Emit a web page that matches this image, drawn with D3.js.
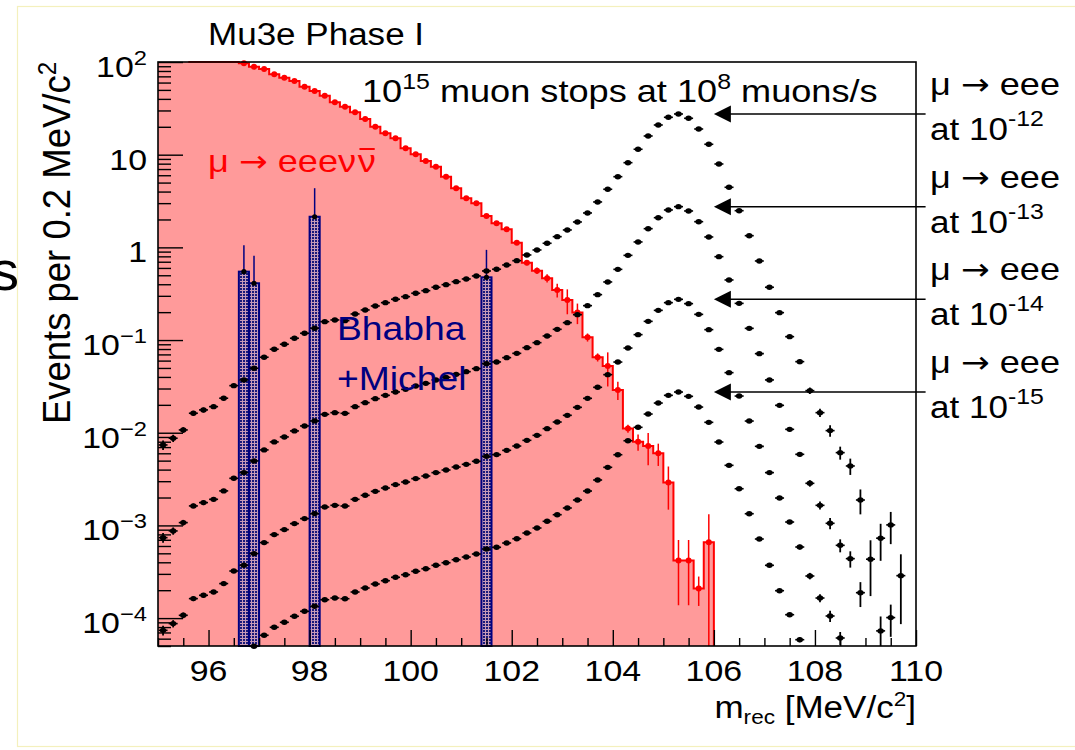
<!DOCTYPE html>
<html>
<head>
<meta charset="utf-8">
<script src="https://cdn.jsdelivr.net/npm/d3@7"></script>
<style>
  body { margin: 0; background: #fff; }
  svg { display: block; }
  text { font-family: "Liberation Sans", Arial, Helvetica, sans-serif; }
  .arr { font-family: "DejaVu Sans", sans-serif; }
</style>
</head>
<body>
<svg width="1075" height="750"></svg>
<script>
// ---- data, 0.2 MeV bins from 95 to 110 ----
var binLow = 95, binWidth = 0.2;
var binCentres = d3.range(75).map(i => binLow + binWidth * (i + 0.5));

// mu -> eeevv background (values above 100 are off the top of the frame)
var redVals = [310, 270, 235, 205, 180, 155, 132, 112,
  96.8, 89.0, 84.0, 73.7, 67.7, 62.4, 54.2, 48.7, 43.3, 36.7, 32.9, 28.7, 24.3, 20.0, 17.0, 15.0, 11.7,
  10.1, 8.55, 7.42, 5.79, 4.34, 3.39, 2.99, 2.18, 1.82, 1.57, 1.12, 0.684, 0.561, 0.465, 0.347, 0.271,
  0.198, 0.107, 0.0652, 0.0526, 0.029, 0.0111, 0.0080, 0.0072, 0.0060, 0.0029, 0.000417, 0.000417,
  0.000208, 0.00066,
  0, 0, 0, 0, 0, 0, 0, 0, 0, 0, 0, 0, 0, 0, 0, 0, 0, 0, 0, 0];
var redRelErr = [0.01, 0.01, 0.01, 0.01, 0.01, 0.01, 0.01, 0.01,
  0.015, 0.015, 0.015, 0.015, 0.015, 0.015, 0.015, 0.015, 0.015, 0.015, 0.015, 0.015, 0.015, 0.015, 0.015, 0.015, 0.015,
  0.03, 0.03, 0.03, 0.03, 0.03, 0.03, 0.03, 0.03, 0.03, 0.03, 0.04, 0.06, 0.08, 0.10, 0.17, 0.30,
  0.25, 0.10, 0.10, 0.40, 0.22, 0.10, 0.20, 0.38, 0.27, 0.49, 0.67, 0.67, 0.35, 1.0,
  0, 0, 0, 0, 0, 0, 0, 0, 0, 0, 0, 0, 0, 0, 0, 0, 0, 0, 0, 0];

// Bhabha + Michel
var bhabhaX = [96.7, 96.9, 98.1, 101.5];
var bhabhaVals = [0.547, 0.41, 2.14, 0.475];
var bhabhaErr = [0.51, 0.40, 2.21, 0.465];

// mu -> eee signal at branching ratio 1e-12 ... 1e-15
var sig12 = [0.00738, 0.00872, 0.01072, 0.01623, 0.01762, 0.01912, 0.02357, 0.03222, 0.03712, 0.04963,
  0.06525, 0.0796, 0.0901, 0.1046, 0.1184, 0.1341, 0.1579, 0.1647, 0.1619, 0.1912, 0.2112, 0.2332,
  0.2532, 0.2755, 0.2939, 0.3198, 0.3411, 0.3712, 0.396, 0.4266, 0.4561, 0.4915, 0.5564, 0.5805,
  0.6458, 0.7186, 0.8279, 0.9375, 1.107, 1.305, 1.541, 1.879, 2.35, 3.09, 4.234, 5.79, 8.199, 11.44,
  15.91, 20.91, 25.32, 27.49, 24.7, 18.93, 12.95, 7.937, 4.449, 2.488, 1.337, 0.7133, 0.3712, 0.1975,
  0.1088, 0.05848, 0.02846, 0.01647, 0.01054, 0.0061, 0.00438, 0.00188, 0.000432, 0.000728, 0.001013,
  0.000287, 0];
var sig13 = [7.38e-4, 8.72e-4, 1.072e-3, 1.623e-3, 1.762e-3, 1.912e-3, 2.357e-3, 3.222e-3, 3.712e-3, 4.963e-3,
  6.525e-3, 7.96e-3, 9.01e-3, 1.046e-2, 1.184e-2, 1.341e-2, 1.579e-2, 1.647e-2, 1.619e-2, 1.912e-2, 2.112e-2, 2.332e-2,
  2.532e-2, 2.755e-2, 2.939e-2, 3.198e-2, 3.411e-2, 3.712e-2, 3.96e-2, 4.266e-2, 4.561e-2, 4.915e-2, 5.564e-2, 5.805e-2,
  6.458e-2, 7.186e-2, 8.279e-2, 9.375e-2, 0.1107, 0.1305, 0.1541, 0.1879, 0.235, 0.309, 0.4234, 0.579, 0.8199, 1.144,
  1.591, 2.091, 2.532, 2.749, 2.47, 1.893, 1.295, 0.7937, 0.4449, 0.2488, 0.1337, 7.133e-2, 3.712e-2, 1.975e-2,
  1.088e-2, 5.848e-3, 2.846e-3, 1.647e-3, 1.054e-3, 6.1e-4, 4.38e-4, 1.88e-4, 4.32e-5, 7.28e-5, 1.013e-4,
  2.87e-5, 0];
var sig14 = [7.38e-5, 8.72e-5, 1.072e-4, 1.623e-4, 1.762e-4, 1.912e-4, 2.357e-4, 3.222e-4, 3.712e-4, 4.963e-4,
  6.525e-4, 7.96e-4, 9.01e-4, 1.046e-3, 1.184e-3, 1.341e-3, 1.579e-3, 1.647e-3, 1.619e-3, 1.912e-3, 2.112e-3, 2.332e-3,
  2.532e-3, 2.755e-3, 2.939e-3, 3.198e-3, 3.411e-3, 3.712e-3, 3.96e-3, 4.266e-3, 4.561e-3, 4.915e-3, 5.564e-3, 5.805e-3,
  6.458e-3, 7.186e-3, 8.279e-3, 9.375e-3, 1.107e-2, 1.305e-2, 1.541e-2, 1.879e-2, 2.35e-2, 3.09e-2, 4.234e-2, 5.79e-2, 8.199e-2, 0.1144,
  0.1591, 0.2091, 0.2532, 0.2749, 0.247, 0.1893, 0.1295, 7.937e-2, 4.449e-2, 2.488e-2, 1.337e-2, 7.133e-3, 3.712e-3, 1.975e-3,
  1.088e-3, 5.848e-4, 2.846e-4, 1.647e-4, 1.054e-4, 6.1e-5, 4.38e-5, 1.88e-5, 4.32e-6, 7.28e-6, 1.013e-5,
  2.87e-6, 0];
var sig15 = [7.38e-6, 8.72e-6, 1.072e-5, 1.623e-5, 1.762e-5, 1.912e-5, 2.357e-5, 3.222e-5, 3.712e-5, 4.963e-5,
  6.525e-5, 7.96e-5, 9.01e-5, 1.046e-4, 1.184e-4, 1.341e-4, 1.579e-4, 1.647e-4, 1.619e-4, 1.912e-4, 2.112e-4, 2.332e-4,
  2.532e-4, 2.755e-4, 2.939e-4, 3.198e-4, 3.411e-4, 3.712e-4, 3.96e-4, 4.266e-4, 4.561e-4, 4.915e-4, 5.564e-4, 5.805e-4,
  6.458e-4, 7.186e-4, 8.279e-4, 9.375e-4, 1.107e-3, 1.305e-3, 1.541e-3, 1.879e-3, 2.35e-3, 3.09e-3, 4.234e-3, 5.79e-3, 8.199e-3, 1.144e-2,
  1.591e-2, 2.091e-2, 2.532e-2, 2.749e-2, 2.47e-2, 1.893e-2, 1.295e-2, 7.937e-3, 4.449e-3, 2.488e-3, 1.337e-3, 7.133e-4, 3.712e-4, 1.975e-4,
  1.088e-4, 5.848e-5, 2.846e-5, 1.647e-5, 1.054e-5, 6.1e-6, 4.38e-6, 1.88e-6, 4.32e-7, 7.28e-7, 1.013e-6,
  2.87e-7, 0];
// relative MC error, same sample scaled for every branching ratio
var sigRelErr = [0.12, 0.09, 0.07, 0.06, 0.06, 0.05, 0.05, 0.045, 0.04, 0.04,
  0.035, 0.035, 0.035, 0.035, 0.035, 0.03, 0.03, 0.03, 0.03, 0.03, 0.03, 0.03, 0.03, 0.03, 0.03,
  0.025, 0.025, 0.025, 0.025, 0.025, 0.025, 0.025, 0.025, 0.025, 0.025, 0.02, 0.02, 0.02, 0.02, 0.02,
  0.02, 0.02, 0.02, 0.02, 0.02, 0.015, 0.015, 0.015, 0.015, 0.015, 0.015, 0.015, 0.015, 0.015, 0.015,
  0.015, 0.015, 0.015, 0.02, 0.025, 0.03, 0.04, 0.05, 0.06, 0.08, 0.10, 0.14, 0.16, 0.20, 0.30,
  0.60, 0.43, 0.38, 0.70, 0];
var sigSeries = [sig12, sig13, sig14, sig15];
var sigExponents = ['-12', '-13', '-14', '-15'];

var xTicks = [96, 98, 100, 102, 104, 106, 108, 110];
var yDecades = [1e2, 1e1, 1, 1e-1, 1e-2, 1e-3, 1e-4];
var yTickExp = ['2', '', '', '\u22121', '\u22122', '\u22123', '\u22124'];

// ---- layout ----
var frameL = 158, frameR = 916, frameT = 62, frameB = 646;
var SX = 1.13; // lettering in the picture is a little wider than tall
var navy = '#000080';

var svg = d3.select('svg');
var x = d3.scaleLinear().domain([95, 110]).range([frameL, frameR]);
var y = d3.scaleLog().domain([5e-5, 100]).range([frameB, frameT]);
var yMin = 5e-5, yMax = 100;

function txt(px, py, size, anchor, color) {
  return svg.append('text')
    .attr('transform', `translate(${px},${py}) scale(${SX},1)`)
    .attr('font-size', size)
    .attr('text-anchor', anchor || 'start')
    .attr('fill', color || '#000');
}
function yc(v) { // clamp into frame
  if (v <= 0) return frameB;
  return y(Math.min(Math.max(v, yMin), yMax));
}
function arrowLabel(t, size) { // "mu -> eee" with a wider arrow glyph
  t.append('tspan').text('\u03bc ');
  t.append('tspan').attr('class', 'arr').attr('font-size', size * 0.95).text('\u2192');
  return t;
}

// dotted fill for Bhabha bars (navy dots over a pinkish ground)
var defs = svg.append('defs');
var pat = defs.append('pattern').attr('id', 'dots')
  .attr('width', 3).attr('height', 3).attr('patternUnits', 'userSpaceOnUse');
pat.append('rect').attr('width', 3).attr('height', 3).attr('fill', '#c79ab8');
pat.append('rect').attr('width', 2).attr('height', 2).attr('fill', '#1a1a7a');

// pale slide border and a letter of the neighbouring slide
svg.append('rect').attr('x', 17.5).attr('y', 6.5).attr('width', 1100).attr('height', 740)
  .attr('fill', 'none').attr('stroke', '#f4f0bd').attr('stroke-width', 1.2);
svg.append('text').attr('x', -9).attr('y', 290).attr('font-size', 56).text('s');

// ---- red histogram ----
var redPts = [[x(binLow), frameB]];
redVals.forEach(function(v, i) {
  var yy = yc(v);
  redPts.push([x(binLow + i * binWidth), yy], [x(binLow + (i + 1) * binWidth), yy]);
});
redPts.push([x(110), frameB]);
svg.append('path').attr('d', d3.line()(redPts) + 'Z').attr('fill', '#ff9a9a');

var lastRed = d3.max(redVals.map((v, i) => v > 0 ? i : -1));
var outline = [];
redVals.forEach(function(v, i) {
  if (i > lastRed || binLow + i * binWidth < 95.45) return;
  var yy = yc(v);
  outline.push([x(binLow + i * binWidth), yy], [x(binLow + (i + 1) * binWidth), yy]);
});
outline.push([x(binLow + (lastRed + 1) * binWidth), frameB]);
svg.append('path').attr('d', d3.line()(outline))
  .attr('fill', 'none').attr('stroke', '#ff0000').attr('stroke-width', 2);

var redShown = redVals.map((v, i) => ({c: binCentres[i], v: v, r: redRelErr[i]}))
  .filter(d => d.v > 0 && d.v <= yMax);
svg.append('g').selectAll('line').data(redShown.filter(d => d.r > 0)).enter().append('line')
  .attr('x1', d => x(d.c)).attr('x2', d => x(d.c))
  .attr('y1', d => yc(d.v * (1 + d.r)))
  .attr('y2', d => d.v * (1 - d.r) > yMin ? y(d.v * (1 - d.r)) : frameB)
  .attr('stroke', '#ff0000').attr('stroke-width', 1.5);
svg.append('g').selectAll('circle').data(redShown).enter().append('circle')
  .attr('cx', d => x(d.c)).attr('cy', d => y(d.v)).attr('r', 3).attr('fill', '#ff0000');

// ---- Bhabha + Michel bars ----
var bh = bhabhaX.map((c, i) => ({c: c, v: bhabhaVals[i], e: bhabhaErr[i]}));
var bhG = svg.append('g');
bhG.selectAll('rect').data(bh).enter().append('rect')
  .attr('x', d => x(d.c - binWidth / 2)).attr('width', d => x(d.c + binWidth / 2) - x(d.c - binWidth / 2))
  .attr('y', d => y(d.v)).attr('height', d => frameB - y(d.v))
  .attr('fill', 'url(#dots)').attr('stroke', navy).attr('stroke-width', 2);
bhG.selectAll('line').data(bh).enter().append('line')
  .attr('x1', d => x(d.c)).attr('x2', d => x(d.c))
  .attr('y1', d => yc(d.v + d.e)).attr('y2', d => y(d.v))
  .attr('stroke', navy).attr('stroke-width', 1.5);
bhG.selectAll('circle').data(bh).enter().append('circle')
  .attr('cx', d => x(d.c)).attr('cy', d => y(d.v)).attr('r', 2.6).attr('fill', '#000');

// ---- signal points ----
sigSeries.forEach(function(s) {
  var pts = s.map((v, i) => ({c: binCentres[i], v: v, r: sigRelErr[i]}))
    .filter(d => d.v >= yMin * 0.98 && d.v <= yMax);
  var g = svg.append('g');
  g.selectAll('.ev').data(pts).enter().append('line')
    .attr('x1', d => x(d.c)).attr('x2', d => x(d.c))
    .attr('y1', d => yc(d.v * (1 + d.r)))
    .attr('y2', d => d.v * (1 - d.r) > yMin ? y(d.v * (1 - d.r)) : frameB)
    .attr('stroke', '#000').attr('stroke-width', 1.8);
  g.selectAll('.eh').data(pts).enter().append('line')
    .attr('x1', d => x(d.c) - 4.5).attr('x2', d => x(d.c) + 4.5)
    .attr('y1', d => y(d.v)).attr('y2', d => y(d.v))
    .attr('stroke', '#000').attr('stroke-width', 1.6);
  g.selectAll('ellipse').data(pts).enter().append('ellipse')
    .attr('cx', d => x(d.c)).attr('cy', d => y(d.v)).attr('rx', 3.2).attr('ry', 2.7).attr('fill', '#000');
});

// ---- frame and axes ----
svg.append('rect').attr('x', frameL).attr('y', frameT).attr('width', frameR - frameL).attr('height', frameB - frameT)
  .attr('fill', 'none').attr('stroke', '#000').attr('stroke-width', 1.6);

var xMinor = d3.range(95, 110.01, 0.5).filter(v => xTicks.indexOf(v) < 0);
svg.append('g').attr('transform', `translate(0,${frameB})`)
  .call(d3.axisBottom(x).tickValues(xTicks).tickSize(-16).tickSizeOuter(0).tickFormat(''))
  .call(g => g.select('.domain').remove());
svg.append('g').attr('transform', `translate(0,${frameB})`)
  .call(d3.axisBottom(x).tickValues(xMinor).tickSize(-8).tickSizeOuter(0).tickFormat(''))
  .call(g => g.select('.domain').remove());

var yMinor = [];
[1e-5, 1e-4, 1e-3, 1e-2, 1e-1, 1, 10].forEach(function(dec) {
  [2, 3, 4, 5, 6, 7, 8, 9].forEach(function(m) {
    var v = m * dec;
    if (v >= yMin && v < yMax) yMinor.push(v);
  });
});
svg.append('g').attr('transform', `translate(${frameL},0)`)
  .call(d3.axisLeft(y).tickValues(yDecades).tickSize(-25).tickSizeOuter(0).tickFormat(''))
  .call(g => g.select('.domain').remove());
svg.append('g').attr('transform', `translate(${frameL},0)`)
  .call(d3.axisLeft(y).tickValues(yMinor).tickSize(-13).tickSizeOuter(0).tickFormat(''))
  .call(g => g.select('.domain').remove());
svg.selectAll('.tick line').attr('stroke-width', 1.4);

xTicks.forEach(function(v) {
  txt(x(v), 681, 30, 'middle').text(v);
});
yDecades.forEach(function(v, i) {
  var t = txt(147, y(v) + 15, 30, 'end');
  if (v === 1) { t.text('1'); return; }
  t.append('tspan').text('10');
  if (yTickExp[i]) t.append('tspan').attr('font-size', 21).attr('dy', -12).text(yTickExp[i]);
});

// axis titles
var xt = txt(916, 718, 31, 'end');
xt.append('tspan').text('m');
xt.append('tspan').attr('font-size', 20).attr('dy', 6).text('rec');
xt.append('tspan').attr('dy', -6).text(' [MeV/c');
xt.append('tspan').attr('font-size', 20).attr('dy', -12).text('2');
xt.append('tspan').attr('dy', 12).text(']');

var yt = svg.append('text')
  .attr('transform', `translate(70,${frameT}) scale(1.04,1) rotate(-90)`)
  .attr('font-size', 36.5).attr('text-anchor', 'end');
yt.append('tspan').text('Events per 0.2 MeV/c');
yt.append('tspan').attr('font-size', 24).attr('dy', -13).text('2');

// ---- texts in the pad ----
txt(208, 45, 31).text('Mu3e Phase I');

var tt = txt(362, 101.7, 32);
tt.append('tspan').text('10');
tt.append('tspan').attr('font-size', 22).attr('dy', -13).text('15');
tt.append('tspan').attr('dy', 13).text(' muon stops at 10');
tt.append('tspan').attr('font-size', 22).attr('dy', -13).text('8');
tt.append('tspan').attr('dy', 13).text(' muons/s');

// red label with nu-bar
var rg = svg.append('g').attr('transform', `translate(208,172) scale(${SX},1)`);
var rl = rg.append('text').attr('font-size', 32).attr('fill', '#ff0000');
arrowLabel(rl, 32);
rl.append('tspan').text(' eee');
rl.append('tspan').attr('letter-spacing', 1.5).text('\u03bd\u03bd');
var n = rl.node().getNumberOfChars();
var ext = rl.node().getExtentOfChar(n - 1);
rg.append('line').attr('x1', ext.x + 1.5).attr('x2', ext.x + ext.width - 2.5)
  .attr('y1', -23).attr('y2', -23).attr('stroke', '#ff0000').attr('stroke-width', 2);

txt(337, 340, 33, 'start', navy).text('Bhabha');
txt(337, 390, 33, 'start', navy).text('+Michel');

// arrows pointing at the signal peaks, with labels on the right
var arrowTip = 106.0, arrowTail = 110.19;
sigSeries.forEach(function(s, k) {
  var ay = y(d3.max(s));
  var tip = x(arrowTip);
  svg.append('line').attr('x1', tip + 14).attr('x2', x(arrowTail)).attr('y1', ay).attr('y2', ay)
    .attr('stroke', '#000').attr('stroke-width', 1.5);
  svg.append('path').attr('d', `M${tip},${ay} L${tip + 17},${ay - 8.5} L${tip + 17},${ay + 8.5} Z`)
    .attr('fill', '#000');
  var mt = txt(930, ay - 19, 32);
  arrowLabel(mt, 32);
  mt.append('tspan').text(' eee');
  var at = txt(930, ay + 26, 31);
  at.append('tspan').text('at 10');
  at.append('tspan').attr('font-size', 22).attr('dy', -14).text(sigExponents[k]);
});
</script>
</body>
</html>
